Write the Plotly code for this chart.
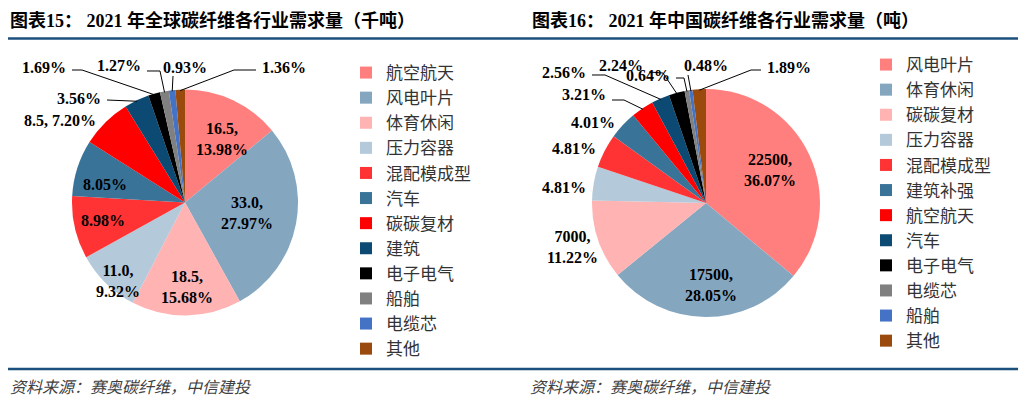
import math
import plotly.graph_objects as go

W, H = 1024, 398

# ---------------- data ----------------
CATS1 = ["航空航天", "风电叶片", "体育休闲", "压力容器", "混配模成型", "汽车",
         "碳碳复材", "建筑", "电子电气", "船舶", "电缆芯", "其他"]
VALS1 = [16.5, 33.0, 18.5, 11.0, 10.6, 9.5, 8.5, 4.2, 2.0, 1.5, 1.1, 1.6]   # 千吨

CATS2 = ["风电叶片", "体育休闲", "碳碳复材", "压力容器", "混配模成型", "建筑补强",
         "航空航天", "汽车", "电子电气", "电缆芯", "船舶", "其他"]
VALS2 = [22500, 17500, 7000, 3000, 3000, 2500, 2000, 1600, 1400, 400, 300, 1180]  # 吨

TITLE1 = "图表15： 2021 年全球碳纤维各行业需求量（千吨）"
TITLE2 = "图表16： 2021 年中国碳纤维各行业需求量（吨）"
SOURCE = "资料来源：赛奥碳纤维，中信建投"

# ---------------- style ----------------
COLORS = ["#FF7F7F", "#84A6BF", "#FFB3B3", "#B4C9D9", "#FF3333", "#3A7398",
          "#FF0000", "#0D4A73", "#000000", "#808080", "#4472C4", "#9A4A0C"]
NAVY = "#1B4F7C"
SERIF = "Liberation Serif, Times New Roman, Noto Sans CJK SC, serif"
CJK = "Noto Sans CJK SC, sans-serif"

PIE1 = dict(cx=185, cy=202.5, r=113)
PIE2 = dict(cx=706, cy=203, r=114)

# label format per slice: 'v2' value+pct two lines, 'v1' value+pct one line, 'p' pct only
FMT1 = ["v2", "v2", "v2", "v2", "p", "p", "v1", "p", "p", "p", "p", "p"]
FMT2 = ["v2", "v2", "v2", "p", "p", "p", "p", "p", "p", "p", "p", "p"]

# placement: ('in', radial fraction, angle nudge) or ('out', x, y, anchor, leader points)
PLACE1 = [
    ("in", 0.647, 5.2), ("in", 0.557, -1.1), ("in", 0.748, -0.6), ("in", 0.913, -3.7),
    ("in", 0.742, 0.7), ("in", 0.725, -5.5),
    ("out", 98, 121, "right", []),
    ("out", 103, 98, "right", [(107, 100)]),
    ("out", 68, 67, "right", [(72, 70), (82, 70)]),
    ("out", 143, 66, "right", [(147, 71), (160, 71)]),
    ("out", 185, 67, "center", [(173, 76)]),
    ("out", 260, 67, "left", [(256, 70), (234, 70)]),
]
PLACE2 = [
    ("in", 0.632, -2.2), ("in", 0.72, -3.8),
    ("out", 572, 247, "center", []),
    ("out", 588, 187, "right", []),
    ("out", 598, 148, "right", []),
    ("out", 617, 122, "right", []),
    ("out", 608, 95, "right", [(612, 100), (624, 100)]),
    ("out", 588, 72, "right", [(592, 75), (605, 75)]),
    ("out", 645, 65, "right", [(649, 72), (663, 73)]),
    ("out", 672, 75, "right", [(676, 78), (684, 78)]),
    ("out", 682, 65, "left", [(688, 75)]),
    ("out", 765, 67, "left", [(761, 70), (751, 70)]),
]


def px(x):
    return x / W


def py(y):
    return 1 - y / H


def label_text(v, tot, fmt, decimals):
    p = f"{v / tot * 100:.2f}%"
    vs = f"{v:.{decimals}f}"
    if fmt == "v2":
        return f"<b>{vs},<br>{p}</b>"
    if fmt == "v1":
        return f"<b>{vs}, {p}</b>"
    return f"<b>{p}</b>"


fig = go.Figure()
annotations = []
shapes = []


def add_pie(cats, vals, geo, fmts, places, decimals, legend_id, suffix=""):
    cx, cy, r = geo["cx"], geo["cy"], geo["r"]
    fig.add_trace(go.Pie(
        labels=[c + suffix for c in cats], values=vals, sort=False,
        direction="clockwise", rotation=0,
        marker=dict(colors=COLORS, line=dict(width=0)),
        textinfo="none", hoverinfo="label+value+percent",
        domain=dict(x=[px(cx - r), px(cx + r)], y=[py(cy + r), py(cy - r)]),
        legend=legend_id, showlegend=True,
    ))
    tot = sum(vals)
    cum = 0.0
    for v, fmt, pl in zip(vals, fmts, places):
        mid = (cum + v / 2) / tot * 360.0
        cum += v
        txt = label_text(v, tot, fmt, decimals)
        if pl[0] == "in":
            a = math.radians(mid + pl[2])
            lx = cx + pl[1] * r * math.sin(a)
            ly = cy - pl[1] * r * math.cos(a)
            anc = "center"
        else:
            _, lx, ly, anc, pts = pl
            if pts:
                a = math.radians(mid)
                ex = cx + (r - 1) * math.sin(a)
                ey = cy - (r - 1) * math.cos(a)
                allp = list(pts) + [(ex, ey)]
                path = "M " + " L ".join(f"{px(x):.5f},{py(y):.5f}" for x, y in allp)
                shapes.append(dict(type="path", path=path, xref="paper", yref="paper",
                                   line=dict(color="#000000", width=1)))
        annotations.append(dict(x=px(lx), y=py(ly), xref="paper", yref="paper",
                                text=txt, showarrow=False, xanchor=anc, yanchor="middle",
                                font=dict(family=SERIF, size=16, color="#000000")))


add_pie(CATS1, VALS1, PIE1, FMT1, PLACE1, 1, "legend")
add_pie(CATS2, VALS2, PIE2, FMT2, PLACE2, 0, "legend2", suffix="\u200b")

# titles
for x0, t in [(8, TITLE1), (530, TITLE2)]:
    annotations.append(dict(x=px(x0), y=py(21), xref="paper", yref="paper", text=f"<b>{t}</b>",
                            showarrow=False, xanchor="left", yanchor="middle",
                            font=dict(family=SERIF, size=18, color="#000000")))
# sources
for x0 in [8, 528]:
    annotations.append(dict(x=px(x0), y=py(386), xref="paper", yref="paper", text=f"<i>{SOURCE}</i>",
                            showarrow=False, xanchor="left", yanchor="middle",
                            font=dict(family=CJK, size=16, color="#404040")))
# rule lines
for yy in [38.5, 369]:
    shapes.append(dict(type="line", xref="paper", yref="paper", x0=px(8), x1=px(1018),
                       y0=py(yy), y1=py(yy), line=dict(color=NAVY, width=2.5)))

leg_common = dict(orientation="v", xanchor="left", yanchor="top", bgcolor="rgba(0,0,0,0)",
                  font=dict(family=CJK, size=17, color="#333333"), traceorder="normal")

fig.update_layout(
    width=W, height=H, margin=dict(l=0, r=0, t=0, b=0),
    paper_bgcolor="#FFFFFF", plot_bgcolor="#FFFFFF",
    annotations=annotations, shapes=shapes,
    legend=dict(x=px(346), y=py(55), **leg_common),
    legend2=dict(x=px(866), y=py(47), **leg_common),
)

fig.write_html("out.html", config={"displayModeBar": False},
               post_script="document.body.style.margin='0';document.body.style.overflow='hidden';")
